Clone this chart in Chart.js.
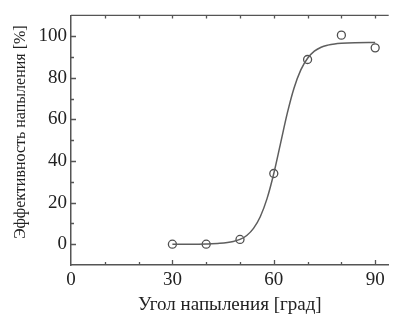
<!DOCTYPE html>
<html><head><meta charset="utf-8">
<script src="https://cdn.jsdelivr.net/npm/chart.js@4"></script>
<style>html,body{margin:0;padding:0;background:#fff;overflow:hidden}</style>
</head><body>
<canvas id="c" width="394" height="318"></canvas>
<script>
// Measured points: spraying angle (deg) vs efficiency (%)
const angles = [30, 40, 50, 60, 70, 80, 90];
const efficiency = [0, 0, 2.3, 34, 88.8, 100.5, 94.4];
// Fitted curve
const fitAngles = [30, 35, 40, 44, 48, 50, 52, 54, 56, 58, 60, 62, 64, 66, 68, 70, 72, 74, 76, 78, 80, 84, 88, 90];
const fitValues = [0, 0, 0.1, 0.4, 1.3, 2.3, 4.2, 7.6, 13.2, 21.9, 34, 48.5, 63, 75.1, 83.8, 89.4, 92.8, 94.7, 95.7, 96.3, 96.6, 96.9, 97, 97];
const xTickLabels = [0, 30, 60, 90];
const yTickLabels = [0, 20, 40, 60, 80, 100];
const xMinorTicks = [10, 20, 30, 40, 50, 60, 70, 80, 90];
const yMinorTicks = [0, 10, 20, 30, 40, 50, 60, 70, 80, 90, 100];

const AX = '#555555';
const TXT = '#222222';
const FONT = "'Liberation Serif','Times New Roman',serif";

const inTicks = {
  id: 'inTicks',
  afterDatasetsDraw(chart) {
    const {ctx, chartArea: a, scales: {x, y}} = chart;
    ctx.save();
    ctx.strokeStyle = AX;
    ctx.lineWidth = 1.3;
    ctx.beginPath();
    ctx.moveTo(a.left, a.top); ctx.lineTo(a.right, a.top);
    xMinorTicks.forEach(v => {
      const px = Math.round(x.getPixelForValue(v)) + 0.5;
      const L = xTickLabels.includes(v) ? 5 : 3;
      ctx.moveTo(px, a.bottom); ctx.lineTo(px, a.bottom - L);
      ctx.moveTo(px, a.top); ctx.lineTo(px, a.top + 3);
    });
    yMinorTicks.forEach(v => {
      const py = Math.round(y.getPixelForValue(v)) + 0.5;
      const L = yTickLabels.includes(v) ? 5 : 3;
      ctx.moveTo(a.left, py); ctx.lineTo(a.left + L, py);
    });
    ctx.stroke();
    ctx.restore();
  }
};

new Chart(document.getElementById('c'), {
  type: 'line',
  data: {
    datasets: [
      {
        data: fitAngles.map((a, i) => ({x: a, y: fitValues[i]})),
        borderColor: '#5e5e5e',
        borderWidth: 1.5,
        pointRadius: 0,
        cubicInterpolationMode: 'monotone',
        fill: false
      },
      {
        data: angles.map((a, i) => ({x: a, y: efficiency[i]})),
        showLine: false,
        pointRadius: 4,
        pointStyle: 'circle',
        pointBorderColor: '#505050',
        pointBackgroundColor: 'rgba(255,255,255,0)',
        pointBorderWidth: 1.3
      }
    ]
  },
  options: {
    responsive: false,
    animation: false,
    devicePixelRatio: 1,
    layout: {padding: {top: 7, right: 0, left: 0, bottom: 0}},
    plugins: {legend: {display: false}, tooltip: {enabled: false}},
    scales: {
      x: {
        type: 'linear',
        min: 0, max: 94,
        afterBuildTicks: s => { s.ticks = xTickLabels.map(v => ({value: v})); },
        afterFit: s => { s.height = 53; },
        grid: {display: true, drawOnChartArea: false, drawTicks: false},
        border: {display: true, color: AX, width: 1.5},
        ticks: {color: TXT, font: {family: FONT, size: 19}, padding: 4, maxRotation: 0},
        title: {display: true, text: 'Угол напыления [град]', color: TXT, font: {family: FONT, size: 19}, padding: {top: 0, bottom: 2}}
      },
      y: {
        type: 'linear',
        min: -10, max: 110,
        afterBuildTicks: s => { s.ticks = yTickLabels.map(v => ({value: v})); },
        afterFit: s => { s.width = 71; },
        grid: {display: true, drawOnChartArea: false, drawTicks: false},
        border: {display: true, color: AX, width: 1.5},
        ticks: {color: TXT, font: {family: FONT, size: 19}, padding: 4},
        title: {display: true, text: '\u00A0\u00A0\u00A0\u00A0Эффективность напыления [%]', color: TXT, font: {family: FONT, size: 16}, padding: {top: 11, bottom: 0}}
      }
    }
  },
  plugins: [inTicks]
});
</script>
</body></html>
